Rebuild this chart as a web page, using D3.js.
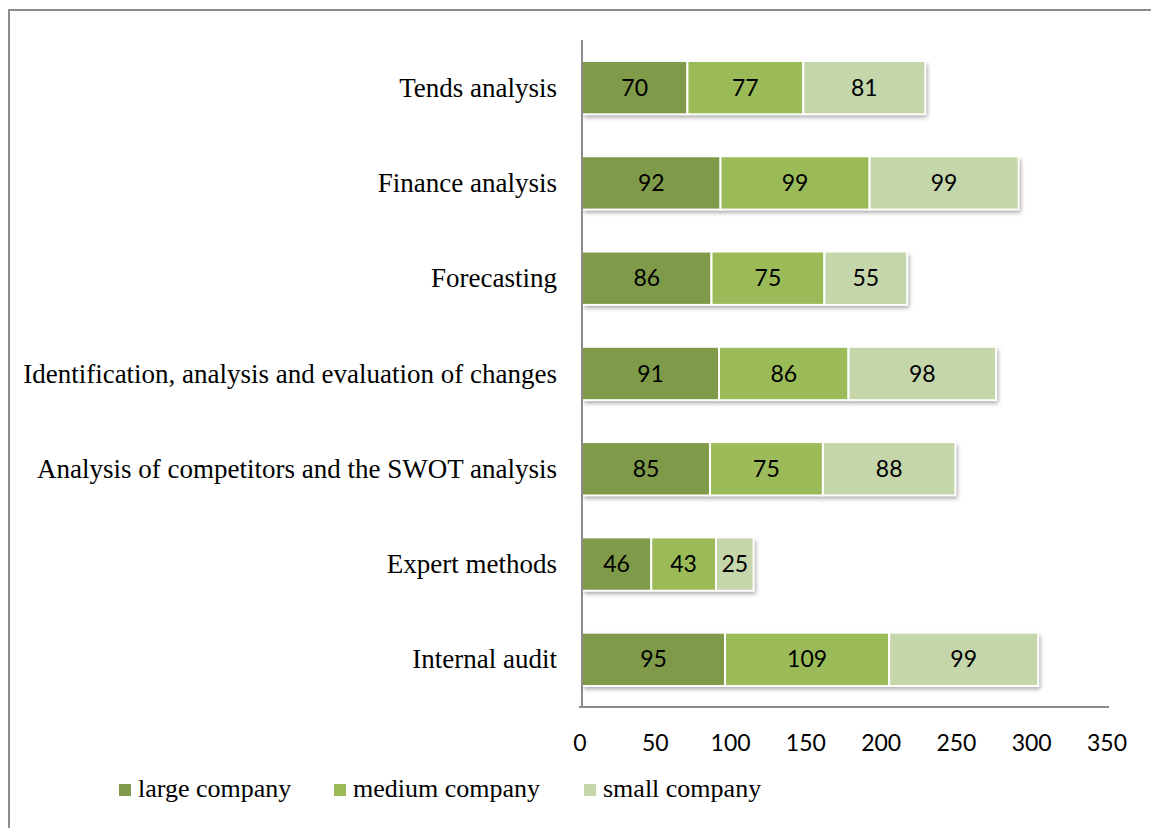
<!DOCTYPE html>
<html>
<head>
<meta charset="utf-8">
<script src="https://cdn.jsdelivr.net/npm/d3@7"></script>
<style>
  body { margin: 0; background: #fff; }
  svg { display: block; }
</style>
</head>
<body>
<svg id="viz"></svg>
<script>
(function () {
    // chart data, top to bottom
    let categories = [
        'Tends analysis',
        'Finance analysis',
        'Forecasting',
        'Identification, analysis and evaluation of changes',
        'Analysis of competitors and the SWOT analysis',
        'Expert methods',
        'Internal audit'
    ]
    let seriesNames = ['large company', 'medium company', 'small company']
    let largeValues = [70, 92, 86, 91, 85, 46, 95]
    let mediumValues = [77, 99, 75, 86, 75, 43, 109]
    let smallValues = [81, 99, 55, 98, 88, 25, 99]
    let xTicks = [0, 50, 100, 150, 200, 250, 300, 350]

    let colors = ['#7f9a48', '#9bbb59', '#c5d6ab']
    let config = {
        width: 1151,
        height: 828,
        plot: { left: 582, right: 1109, top: 40, bottom: 707 }
    }

    let svg = d3.select('#viz')
        .attr('width', config.width)
        .attr('height', config.height)

    let defs = svg.append('defs')
    let filter = defs.append('filter')
        .attr('id', 'shadow')
        .attr('x', '-10%').attr('y', '-20%')
        .attr('width', '130%').attr('height', '160%')
    filter.append('feDropShadow')
        .attr('dx', 2).attr('dy', 3)
        .attr('stdDeviation', 2)
        .attr('flood-color', '#000')
        .attr('flood-opacity', 0.35)

    // outer frame
    svg.append('rect')
        .attr('x', 9).attr('y', 10)
        .attr('width', 1300).attr('height', 1000)
        .attr('fill', 'none')
        .attr('stroke', '#8c8c8c')
        .attr('stroke-width', 2)

    let p = config.plot
    let xScale = d3.scaleLinear().domain([0, 350]).range([p.left, p.right])
    let yScale = d3.scaleBand().domain(categories).range([p.top, p.bottom]).paddingInner(0.44).paddingOuter(0.22)

    let rows = categories.map((c, i) => ({
        category: c,
        large: largeValues[i],
        medium: mediumValues[i],
        small: smallValues[i]
    }))
    let stacked = d3.stack().keys(['large', 'medium', 'small'])(rows)

    // shadows under each row
    svg.append('g')
        .selectAll('rect')
        .data(rows)
        .join('rect')
        .attr('x', xScale(0))
        .attr('y', d => yScale(d.category))
        .attr('width', d => xScale(d.large + d.medium + d.small) - xScale(0))
        .attr('height', yScale.bandwidth())
        .attr('fill', '#fff')
        .attr('filter', 'url(#shadow)')

    let gSeries = svg.append('g')
        .selectAll('g')
        .data(stacked)
        .join('g')
        .attr('fill', (d, i) => colors[i])

    gSeries.selectAll('rect')
        .data(d => d)
        .join('rect')
        .attr('x', d => xScale(d[0]))
        .attr('y', d => yScale(d.data.category))
        .attr('width', d => xScale(d[1]) - xScale(d[0]))
        .attr('height', yScale.bandwidth())
        .attr('stroke', '#fff')
        .attr('stroke-width', 2)

    gSeries.selectAll('text')
        .data(d => d)
        .join('text')
        .attr('x', d => (xScale(d[0]) + xScale(d[1])) / 2)
        .attr('y', d => yScale(d.data.category) + yScale.bandwidth() / 2 + 8)
        .attr('text-anchor', 'middle')
        .attr('fill', '#000')
        .style('font-family', 'Lato, "Open Sans", sans-serif')
        .style('font-size', '23px')
        .text(d => d[1] - d[0])

    // axes lines
    svg.append('line')
        .attr('x1', p.left).attr('x2', p.left)
        .attr('y1', p.top).attr('y2', p.bottom)
        .attr('stroke', '#8c8c8c').attr('stroke-width', 2)
    svg.append('line')
        .attr('x1', p.left - 3).attr('x2', p.right)
        .attr('y1', p.bottom).attr('y2', p.bottom)
        .attr('stroke', '#8c8c8c').attr('stroke-width', 2)

    // category labels
    svg.append('g')
        .selectAll('text')
        .data(categories)
        .join('text')
        .attr('x', 557)
        .attr('y', d => yScale(d) + yScale.bandwidth() / 2 + 9)
        .attr('text-anchor', 'end')
        .style('font-family', '"Liberation Serif", "Times New Roman", serif')
        .style('font-size', '27px')
        .text(d => d)

    // x tick labels
    svg.append('g')
        .selectAll('text')
        .data(xTicks)
        .join('text')
        .attr('x', d => xScale(d) - 2)
        .attr('y', 751)
        .attr('text-anchor', 'middle')
        .style('font-family', 'Lato, "Open Sans", sans-serif')
        .style('font-size', '23px')
        .text(d => d)

    // legend
    let legendX = [119, 334, 584]
    let legend = svg.append('g')
        .selectAll('g')
        .data(seriesNames)
        .join('g')
        .attr('transform', (d, i) => 'translate(' + [legendX[i], 797] + ')')
    legend.append('rect')
        .attr('x', 0).attr('y', -13)
        .attr('width', 12).attr('height', 12)
        .attr('fill', (d, i) => colors[i])
    legend.append('text')
        .attr('x', 19).attr('y', 0)
        .style('font-family', '"Liberation Serif", "Times New Roman", serif')
        .style('font-size', '26px')
        .text(d => d)
})()
</script>
</body>
</html>
